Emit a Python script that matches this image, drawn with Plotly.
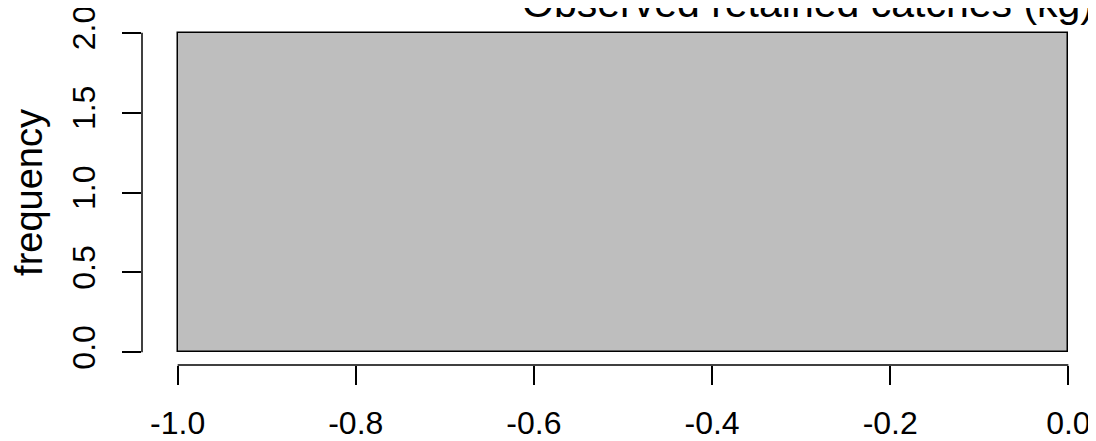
import plotly.graph_objects as go

# Data
bin_edges = [-1.0, 0.0]
counts = [2]
x_ticks = [-1.0, -0.8, -0.6, -0.4, -0.2, 0.0]
x_tick_labels = ["-1.0", "-0.8", "-0.6", "-0.4", "-0.2", "0.0"]
y_ticks = [0.0, 0.5, 1.0, 1.5, 2.0]
y_tick_labels = ["0.0", "0.5", "1.0", "1.5", "2.0"]
title_text = "Observed retained catches (kg)"
y_title = "frequency"

centers = [(bin_edges[i] + bin_edges[i + 1]) / 2 for i in range(len(counts))]
widths = [bin_edges[i + 1] - bin_edges[i] for i in range(len(counts))]

FONT = "Liberation Sans, Arial, sans-serif"

fig = go.Figure()
fig.add_trace(go.Bar(
    x=centers, y=counts, width=widths,
    marker=dict(color="#bebebe", line=dict(color="black", width=1.5)),
    showlegend=False, hoverinfo="skip",
))

W, H = 1096, 441
# the page body adds an 8px offset, compensated here
ml, mr, mt, mb = 134, 0, 12, 84

fig.update_layout(
    width=W, height=H,
    margin=dict(l=ml, r=mr, t=mt, b=mb),
    paper_bgcolor="white", plot_bgcolor="white",
    bargap=0,
    font=dict(family=FONT, color="black"),
    xaxis=dict(
        range=[-1.04, 0.04],
        tickvals=x_ticks, ticktext=x_tick_labels,
        ticks="outside", ticklen=19, tickwidth=1.5, tickcolor="black",
        showline=False, showgrid=False, zeroline=False,
        tickfont=dict(size=32, family=FONT),
        ticklabelstandoff=11,
        ticklabeloverflow="allow",
        automargin=False,
    ),
    yaxis=dict(
        range=[-0.08, 2.08],
        tickvals=y_ticks, ticktext=y_tick_labels,
        ticks="outside", ticklen=19, tickwidth=1.5, tickcolor="black",
        showline=False, showgrid=False, zeroline=False,
        tickfont=dict(size=32, family=FONT),
        tickangle=-90,
        ticklabelstandoff=14,
        ticklabeloverflow="allow",
        automargin=False,
        title=dict(text=y_title, font=dict(size=38, family=FONT), standoff=26),
    ),
    title=dict(
        text=title_text, font=dict(size=41, family=FONT),
        x=800 / W, xref="container", xanchor="center",
        y=1 - 9 / H, yref="container", yanchor="bottom",
    ),
)

# axis lines spanning only the tick range (R style)
fig.add_shape(type="line", xref="x", yref="paper",
              x0=x_ticks[0], x1=x_ticks[-1], y0=0, y1=0,
              line=dict(color="black", width=1.5))
fig.add_shape(type="line", xref="paper", yref="y",
              x0=0, x1=0, y0=y_ticks[0], y1=y_ticks[-1],
              line=dict(color="black", width=1.5))

fig.write_html("out.html")
